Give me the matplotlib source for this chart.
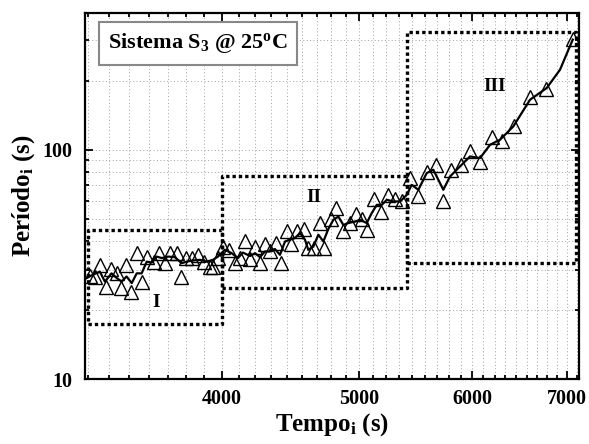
import matplotlib
matplotlib.use("Agg")
import matplotlib.pyplot as plt
from matplotlib.ticker import FixedLocator, FuncFormatter, LogLocator, NullFormatter

plt.rcParams['font.family'] = ['Liberation Serif', 'DejaVu Serif']
plt.rcParams['font.weight'] = 'bold'
plt.rcParams['mathtext.fontset'] = 'custom'
plt.rcParams['mathtext.rm'] = 'Liberation Serif:bold'
plt.rcParams['mathtext.it'] = 'Liberation Serif:bold'
plt.rcParams['mathtext.bf'] = 'Liberation Serif:bold'

# ---- data (Tempo_i, Periodo_i) ----
tempo = [3230, 3257, 3287, 3315, 3346, 3377, 3400, 3428, 3456, 3487, 3515, 3544,
         3584, 3613, 3648, 3682, 3718, 3747, 3777, 3811, 3848, 3886, 3925, 3946,
         3978, 4006, 4050, 4087, 4120, 4153, 4187, 4225, 4259, 4294, 4329, 4366,
         4400, 4443, 4478, 4522, 4568, 4600, 4645, 4687, 4721, 4778, 4816, 4869,
         4922, 4970, 5017, 5063, 5118, 5174, 5236, 5295, 5358, 5430, 5495, 5579,
         5664, 5725, 5803, 5892, 5979, 6077, 6194, 6295, 6422, 6590, 6763, 7062]
periodo = [28.0, 27.8, 31.5, 25.3, 30.1, 28.9, 24.9, 31.5, 24.0, 35.4, 26.6, 34.2,
           32.5, 35.4, 32.0, 35.4, 35.4, 27.8, 33.6, 33.6, 34.8, 32.5, 30.9, 30.9,
           33.6, 37.8, 36.6, 32.2, 33.7, 39.8, 33.3, 37.6, 32.2, 38.9, 36.0, 39.2,
           32.0, 44.0, 38.9, 44.0, 45.1, 37.2, 37.2, 48.1, 37.1, 50.1, 55.6, 44.4,
           48.1, 52.4, 49.8, 44.7, 60.9, 53.6, 63.6, 60.9, 60.0, 75.5, 63.0, 79.6,
           86.0, 60.0, 81.8, 86.0, 98.3, 88.0, 113.6, 109.5, 127.3, 169.9, 184.1, 305.3]

# smoothed curve
smooth_t = [3216, 3247, 3284, 3311, 3347, 3374, 3402, 3429, 3458, 3486, 3514, 3543,
            3572, 3601, 3630, 3667, 3708, 3749, 3780, 3818, 3862, 3904, 3944, 3976,
            4021, 4065, 4107, 4140, 4188, 4222, 4256, 4290, 4325, 4360, 4396, 4432,
            4468, 4504, 4541, 4578, 4602, 4640, 4678, 4716, 4754, 4793, 4832, 4871,
            4911, 4964, 5005, 5059, 5100, 5142, 5184, 5226, 5282, 5340, 5398, 5441,
            5500, 5575, 5635, 5727, 5789, 5868, 5980, 6078, 6177, 6278, 6414, 6590,
            6771, 6918, 7062]
smooth_p = [27.6, 28.5, 29.4, 26.6, 28.9, 27.6, 26.6, 28.0, 26.2, 28.9, 28.9, 32.5,
            32.2, 34.2, 33.7, 34.2, 34.0, 32.0, 32.5, 32.9, 33.1, 32.5, 33.1, 34.2,
            36.6, 35.4, 33.7, 35.6, 34.4, 35.4, 34.0, 36.0, 36.0, 36.9, 34.8, 39.8,
            40.5, 41.2, 43.3, 40.5, 36.6, 37.8, 42.6, 39.8, 45.1, 49.5, 51.1, 47.0,
            47.9, 48.6, 49.5, 47.9, 52.9, 57.5, 57.5, 60.5, 59.5, 59.5, 63.6, 70.3,
            66.9, 79.1, 81.8, 66.9, 76.4, 83.2, 93.5, 92.0, 105.1, 110.6, 126.4, 165.3,
            186.0, 223.5, 302.2]

# regions
region_names = ["I", "II", "III"]
region_t0 = [3222, 4000, 5400]
region_t1 = [4000, 5400, 7105]
region_p0 = [17.3, 25.0, 32.0]
region_p1 = [44.6, 77.0, 327.0]
region_label_t = [3600, 4645, 6226]
region_label_p = [21.6, 62.1, 189.0]

x_major = [4000, 5000, 6000, 7000]

fig = plt.figure(figsize=(5.89, 4.44), dpi=100)
ax = fig.add_axes([85/589, 1-379/444, 494/589, 366/444])
ax.set_xscale('log')
ax.set_yscale('log')
ax.set_xlim(3206, 7134)
ax.set_ylim(10, 395)

# grid
ax.grid(True, which='both', color='#a0a0a0', linestyle=(0, (1, 2.5)), linewidth=0.7)
ax.set_axisbelow(True)

# region boxes
for t0, t1, p0, p1, nm, lt, lp in zip(region_t0, region_t1, region_p0, region_p1,
                                      region_names, region_label_t, region_label_p):
    ax.plot([t0, t1, t1, t0, t0], [p0, p0, p1, p1, p0], color='black',
            linestyle=(0, (1, 0.9)), linewidth=2.4, zorder=3)
    ax.text(lt, lp, nm, ha='center', va='center', fontsize=14, fontweight='bold', zorder=5)

ax.plot(smooth_t, smooth_p, color='black', linewidth=1.6, zorder=4)
ax.plot(tempo, periodo, linestyle='none', marker='^', markersize=10,
        markerfacecolor='none', markeredgecolor='black', markeredgewidth=1.0, zorder=5)

# ticks
ax.xaxis.set_major_locator(FixedLocator(x_major))
ax.xaxis.set_major_formatter(FuncFormatter(lambda v, p: f"{int(round(v))}"))
minor_x = [3000 + k * 1000 / 9 for k in range(0, 40)]
minor_x = [v for v in minor_x if round(v) % 1000 != 0]
ax.xaxis.set_minor_locator(FixedLocator(minor_x))
ax.xaxis.set_minor_formatter(NullFormatter())
ax.yaxis.set_major_locator(LogLocator(base=10))
ax.yaxis.set_major_formatter(FuncFormatter(lambda v, p: f"{int(round(v))}"))
ax.yaxis.set_minor_locator(LogLocator(base=10, subs=range(2, 10)))
ax.yaxis.set_minor_formatter(NullFormatter())
ax.tick_params(which='both', direction='in', top=True, right=True, width=1.3)
ax.tick_params(which='major', length=6, labelsize=14.5)
ax.tick_params(axis='x', which='major', pad=7.5)
ax.tick_params(axis='y', which='major', pad=9)
ax.tick_params(which='minor', length=3)
for lab in ax.get_xticklabels() + ax.get_yticklabels():
    lab.set_fontweight('bold')
for s in ax.spines.values():
    s.set_linewidth(1.6)

# annotation box
ax.text(0.2287, 0.9167, r"Sistema S$_3$ @ 25$^{\rm o}$C", transform=ax.transAxes,
        ha='center', va='center', fontsize=16, fontweight='bold', zorder=6,
        bbox=dict(boxstyle='square,pad=0.42', facecolor='white', edgecolor='#888888', linewidth=1.5))

fig.text(332/589, 1-425/444, r"Tempo$_{\rm i}$ (s)", ha='center', va='center',
         fontsize=18, fontweight='bold')
fig.text(24/589, 1-196/444, r"Período$_{\rm i}$ (s)", ha='center', va='center',
         fontsize=18, fontweight='bold', rotation=90)

fig.savefig("out.png", dpi=100)
